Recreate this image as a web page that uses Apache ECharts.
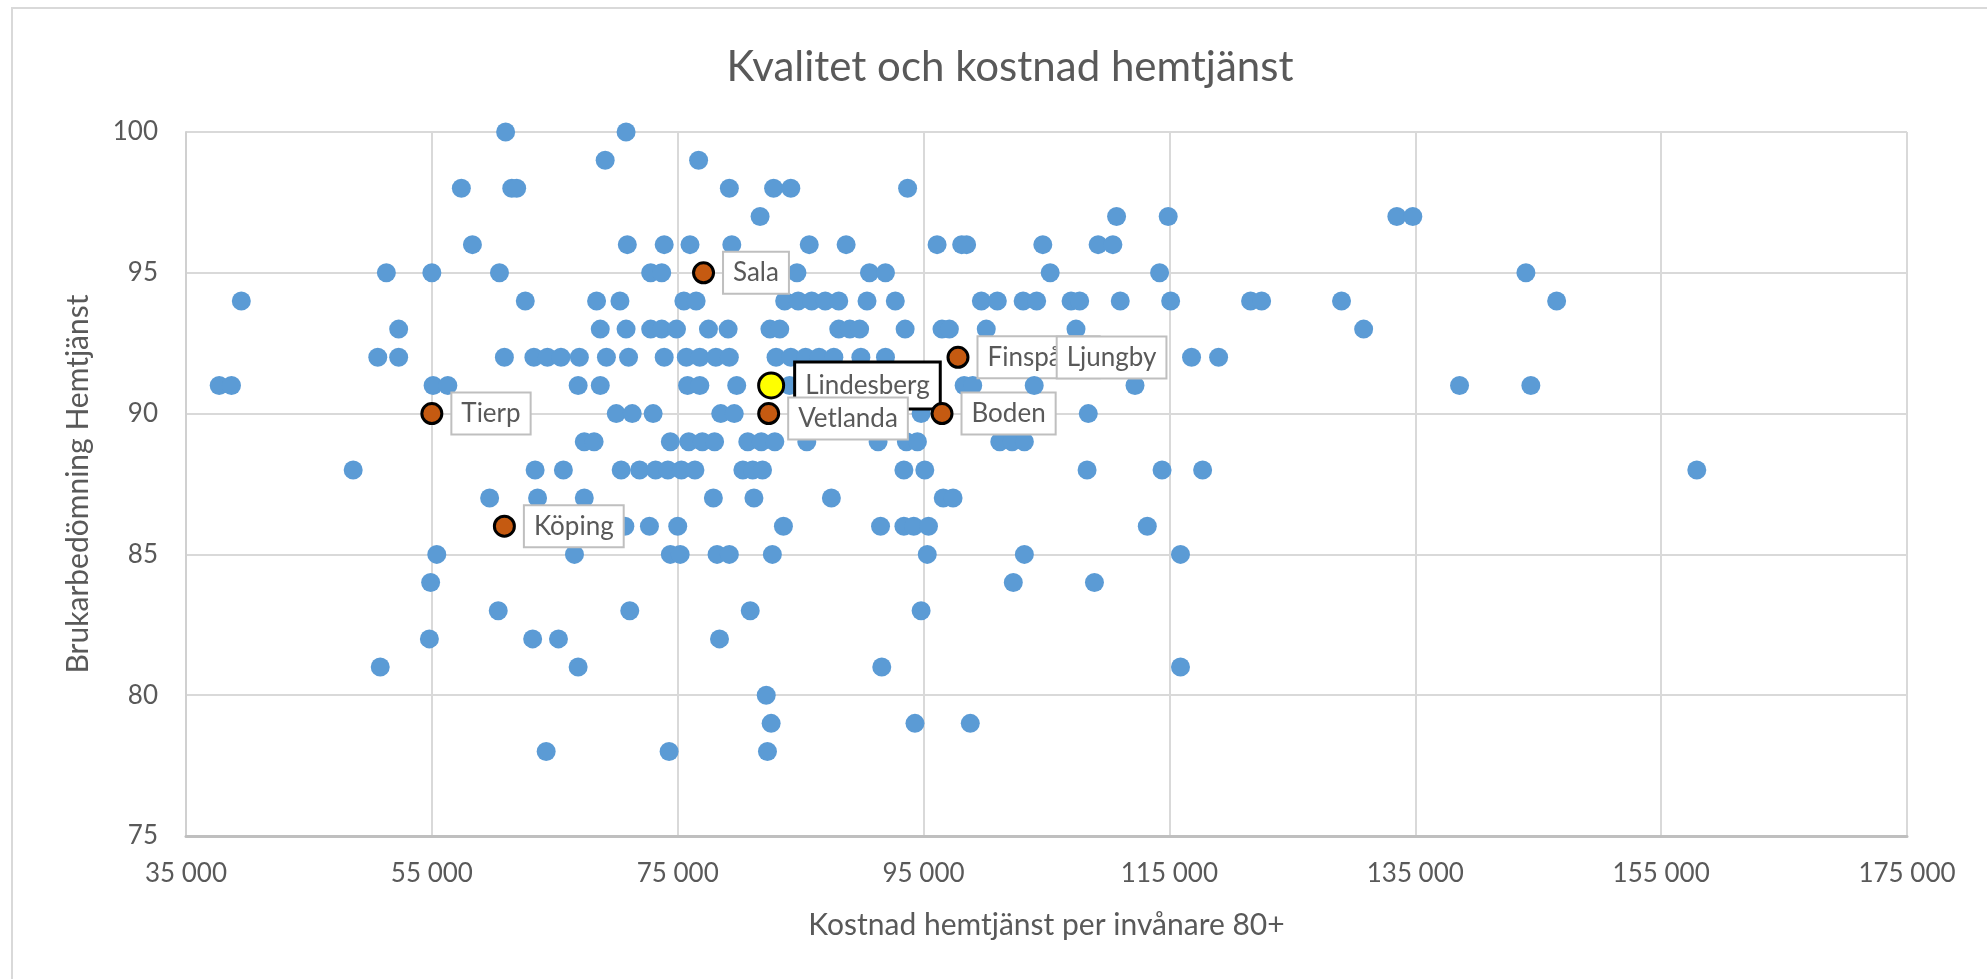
<!DOCTYPE html>
<html>
<head>
<meta charset="utf-8">
<title>Kvalitet och kostnad hemtjänst</title>
<script src="https://cdn.jsdelivr.net/npm/echarts@6/dist/echarts.min.js"></script>
<style>
    html, body { margin: 0; padding: 0; background: #fff; }
    #container { width: 1987px; height: 979px; }
</style>
</head>
<body>
<div id="container"></div>
<script>
// brukarbedömning (y), en rad per nivå, och kostnaden (x) för varje kommun på den nivån
var nivaer = [100, 99, 98, 97, 96, 95, 94, 93, 92, 91, 90, 89, 88, 87, 86, 85, 84, 83, 82, 81, 80, 79, 78];
var kostnader = [
    [61000, 70800],
    [69100, 76700],
    [57400, 61500, 61900, 79200, 82800, 84200, 93700],
    [81700, 110700, 114900, 133500, 134800],
    [58300, 70900, 73900, 76000, 79400, 85700, 88700, 96100, 98100, 98500, 104700, 109200, 110400],
    [51300, 55000, 60500, 72800, 73700, 84700, 90600, 91900, 105300, 114200, 144000],
    [39500, 62600, 68400, 70300, 75500, 76500, 83700, 84800, 85900, 87000, 88100, 90400, 92700, 99700,
        101000, 103100, 104200, 107000, 107700, 111000, 115100, 121600, 122500, 129000, 146500],
    [52300, 68700, 70800, 72800, 73700, 74900, 77500, 79100, 82500, 83300, 88100, 89000, 89800, 93500,
        96500, 97100, 100100, 107400, 130800],
    [50600, 52300, 60900, 63300, 64400, 65500, 67000, 69200, 71000, 73900, 75700, 76800, 78100, 79200,
        83000, 84200, 85400, 86500, 87700, 89900, 91900, 116800, 119000],
    [37700, 38700, 55100, 56300, 66900, 68700, 75800, 76800, 79800, 84100, 98300, 99000, 112200, 138600, 144400],
    [70000, 71300, 73000, 78500, 79600, 94800, 108400],
    [67400, 68200, 74400, 75900, 77000, 78000, 80700, 81800, 82900, 85500, 91300, 93600, 94500, 101200, 102200, 103200],
    [48600, 63400, 65700, 70400, 71900, 73200, 74200, 75300, 76400, 80300, 81100, 81900, 93400, 95100,
        108300, 114400, 117700, 157900],
    [59700, 63600, 67400, 77900, 81200, 87500, 96600, 97400],
    [70700, 72700, 75000, 83600, 91500, 93400, 94200, 95400, 113200],
    [55400, 66600, 74400, 75200, 78200, 79200, 82700, 95300, 103200, 115900],
    [54900, 102300, 108900],
    [60400, 71100, 80900, 94800],
    [54800, 63200, 65300, 78400],
    [50800, 66900, 91600, 115900],
    [82200],
    [82600, 94300, 98800],
    [64300, 74300, 82300]
];

// utmärkta kommuner
var markNamn = ['Sala', 'Tierp', 'Köping', 'Vetlanda', 'Boden', 'Finspång'];
var markKostnad = [77100, 55000, 60900, 82400, 96500, 97800];
var markBetyg = [95, 90, 86, 90, 90, 92];

var egenNamn = ['Lindesberg'];
var egenKostnad = [82600];
var egenBetyg = [91];

var ljungbyNamn = ['Ljungby'];
var ljungbyKostnad = [104000];
var ljungbyBetyg = [91];

var textFarg = '#595959';
var font = 'Lato';

var ovriga = [];
for (var i = 0; i < nivaer.length; i++) {
    for (var j = 0; j < kostnader[i].length; j++) {
        ovriga.push([kostnader[i][j], nivaer[i]]);
    }
}

function etikett(namn, x, y) {
    var out = [];
    for (var k = 0; k < namn.length; k++) {
        out.push({ name: namn[k], value: [x[k], y[k]] });
    }
    return out;
}
var markData = etikett(markNamn, markKostnad, markBetyg);
// Vetlanda-rutan sitter lite lägre
markData[3].label = { offset: [0, 5] };

function tusental(v) {
    if (v < 1000) return String(v);
    var rest = String(v % 1000);
    while (rest.length < 3) rest = '0' + rest;
    return Math.floor(v / 1000) + '\u00a0' + rest;
}

var labelBox = {
    show: true,
    position: 'right',
    distance: 9,
    formatter: '{b}',
    color: textFarg,
    fontFamily: font,
    fontSize: 26,
    lineHeight: 30,
    backgroundColor: '#fff',
    borderColor: '#bfbfbf',
    borderWidth: 2,
    padding: [5, 9]
};

var dom = document.getElementById('container');
var myChart = echarts.init(dom, null, { renderer: 'canvas' });
var option = {
    backgroundColor: '#fff',
    animation: false,
    textStyle: { fontFamily: font },
    graphic: [{
        type: 'rect',
        shape: { x: 12, y: 8, width: 2300, height: 1300 },
        style: { fill: null, stroke: '#d9d9d9', lineWidth: 2 },
        silent: true
    }],
    title: {
        text: 'Kvalitet och kostnad hemtjänst',
        left: 1005,
        top: 41,
        textAlign: 'center',
        textStyle: { color: textFarg, fontFamily: font, fontSize: 42, fontWeight: 'normal' }
    },
    grid: { left: 186, top: 132, width: 1721, height: 704, containLabel: false },
    xAxis: {
        type: 'value',
        min: 35000,
        max: 175000,
        interval: 20000,
        name: 'Kostnad hemtjänst per invånare 80+',
        nameLocation: 'middle',
        nameGap: 74,
        nameTextStyle: { color: textFarg, fontFamily: font, fontSize: 30 },
        axisLine: { show: true, onZero: false, lineStyle: { color: '#bfbfbf', width: 3 } },
        axisTick: { show: false },
        axisLabel: { color: textFarg, fontFamily: font, fontSize: 26, margin: 25, formatter: tusental },
        splitLine: { show: true, lineStyle: { color: '#d9d9d9', width: 2 } }
    },
    yAxis: {
        type: 'value',
        min: 75,
        max: 100,
        interval: 5,
        name: 'Brukarbedömning Hemtjänst',
        nameLocation: 'middle',
        nameGap: 93,
        nameTextStyle: { color: textFarg, fontFamily: font, fontSize: 30 },
        axisLine: { show: true, onZero: false, lineStyle: { color: '#d0d0d0', width: 2 } },
        axisTick: { show: false },
        axisLabel: { color: textFarg, fontFamily: font, fontSize: 26, margin: 28 },
        splitLine: { show: true, lineStyle: { color: '#d9d9d9', width: 2 } }
    },
    series: [
        {
            name: 'Kommuner',
            type: 'scatter',
            z: 2,
            symbol: 'circle',
            symbolSize: 19,
            itemStyle: { color: '#5b9bd5', opacity: 1 },
            data: ovriga
        },
        {
            name: 'Lindesberg',
            type: 'scatter',
            z: 3,
            symbol: 'circle',
            symbolSize: 25,
            itemStyle: { color: '#ffff00', borderColor: '#000', borderWidth: 3, opacity: 1 },
            label: Object.assign({}, labelBox, {
                distance: 11,
                borderColor: '#000',
                borderWidth: 3,
                padding: [7, 9]
            }),
            data: etikett(egenNamn, egenKostnad, egenBetyg)
        },
        {
            name: 'Utvalda',
            type: 'scatter',
            z: 4,
            symbol: 'circle',
            symbolSize: 20,
            itemStyle: { color: '#c55a11', borderColor: '#000', borderWidth: 3, opacity: 1 },
            label: labelBox,
            data: markData
        },
        {
            name: 'Ljungby',
            type: 'scatter',
            z: 5,
            symbol: 'circle',
            symbolSize: 19,
            itemStyle: { color: '#5b9bd5', opacity: 1 },
            label: Object.assign({}, labelBox, { distance: 14, offset: [0, -28] }),
            data: etikett(ljungbyNamn, ljungbyKostnad, ljungbyBetyg)
        }
    ]
};
if (option && typeof option === 'object') {
    myChart.setOption(option, true);
}
</script>
</body>
</html>
